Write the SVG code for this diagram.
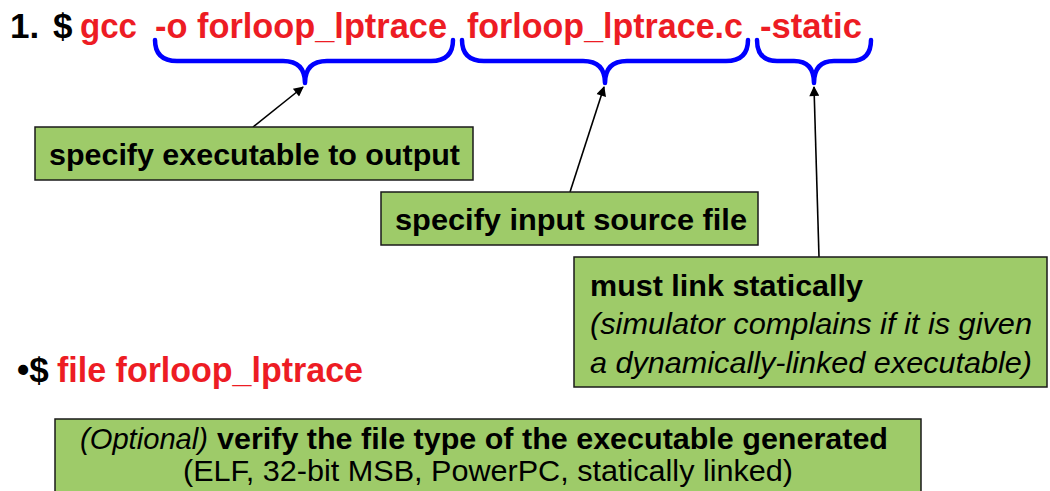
<svg xmlns="http://www.w3.org/2000/svg" width="1050" height="491" viewBox="0 0 1050 491">
  <defs>
    <marker id="arrow" viewBox="0 0 10 10" refX="9" refY="5" markerWidth="12" markerHeight="10" markerUnits="userSpaceOnUse" orient="auto">
      <path d="M0,0 L10,5 L0,10 z" fill="#000"/>
    </marker>
    <style>
      text { font-family: "Liberation Sans", Arial, sans-serif; }
      .cmd { font-size: 35px; font-weight: bold; }
      .red { fill: #ED1C24; }
      .blk { fill: #000; }
      .brace { fill: none; stroke: #0000FF; stroke-width: 4.5; stroke-linecap: round; stroke-linejoin: round; }
      .box { fill: #9ECB69; stroke: #1a1a1a; stroke-width: 1.5; }
      .lbl { font-size: 30px; fill: #000; }
      .b { font-weight: bold; }
      .i { font-style: italic; }
      .link { stroke: #000; stroke-width: 1.6; fill: none; marker-end: url(#arrow); }
    </style>
  </defs>
  <rect width="1050" height="491" fill="#fff"/>

  <!-- command line 1 -->
  <g id="cmd-gcc">
    <text class="cmd blk" x="10" y="38">1.</text>
    <text class="cmd blk" x="53" y="38">$</text>
    <text class="cmd red" x="80" y="38" textLength="57" lengthAdjust="spacingAndGlyphs">gcc</text>
    <text class="cmd red" x="155" y="38" textLength="292" lengthAdjust="spacingAndGlyphs">-o forloop_lptrace</text>
    <text class="cmd red" x="467" y="38" textLength="276" lengthAdjust="spacingAndGlyphs">forloop_lptrace.c</text>
    <text class="cmd red" x="760" y="38" textLength="102" lengthAdjust="spacingAndGlyphs">-static</text>
  </g>

  <!-- braces under the arguments -->
  <g id="braces">
    <path class="brace" d="M155,40 Q155,61 177,61 L283,61 Q305,61 305,83 Q305,61 327,61 L431,61 Q453,61 453,40"/>
    <path class="brace" d="M462,40 Q462,61 484,61 L583,61 Q605,61 605,83 Q605,61 627,61 L726,61 Q748,61 748,40"/>
    <path class="brace" d="M757,40 Q757,61 777,61 L794,61 Q814,61 814,83 Q814,61 834,61 L851,61 Q871,61 871,40"/>
  </g>

  <!-- connectors -->
  <g id="connectors">
    <line class="link" x1="253" y1="127" x2="303" y2="87"/>
    <line class="link" x1="570" y1="192" x2="604" y2="87"/>
    <line class="link" x1="819" y1="257" x2="814" y2="87"/>
  </g>

  <g id="note-output">
    <rect class="box" x="35" y="127" width="438" height="53"/>
    <text class="lbl b" x="49" y="165" textLength="411" lengthAdjust="spacingAndGlyphs">specify executable to output</text>
  </g>

  <g id="note-input">
    <rect class="box" x="381" y="192" width="377" height="53"/>
    <text class="lbl b" x="395" y="230" textLength="352" lengthAdjust="spacingAndGlyphs">specify input source file</text>
  </g>

  <g id="note-static">
    <rect class="box" x="574" y="257" width="473" height="130"/>
    <text class="lbl b" x="590" y="296" textLength="273" lengthAdjust="spacingAndGlyphs">must link statically</text>
    <text class="lbl i" x="590" y="334" textLength="442" lengthAdjust="spacingAndGlyphs">(simulator complains if it is given</text>
    <text class="lbl i" x="590" y="373" textLength="442" lengthAdjust="spacingAndGlyphs">a dynamically-linked executable)</text>
  </g>

  <!-- command line 2 -->
  <g id="cmd-file">
    <text class="cmd blk" x="17" y="382">•$</text>
    <text class="cmd red" x="57" y="382" textLength="306" lengthAdjust="spacingAndGlyphs">file forloop_lptrace</text>
  </g>

  <g id="note-file">
    <rect class="box" x="55" y="419" width="866" height="82"/>
    <text class="lbl i" x="80" y="449" textLength="128" lengthAdjust="spacingAndGlyphs">(Optional)</text>
    <text class="lbl b" x="217" y="449" textLength="671" lengthAdjust="spacingAndGlyphs">verify the file type of the executable generated</text>
    <text class="lbl" x="183" y="481" textLength="610" lengthAdjust="spacingAndGlyphs">(ELF, 32-bit MSB, PowerPC, statically linked)</text>
  </g>
</svg>
